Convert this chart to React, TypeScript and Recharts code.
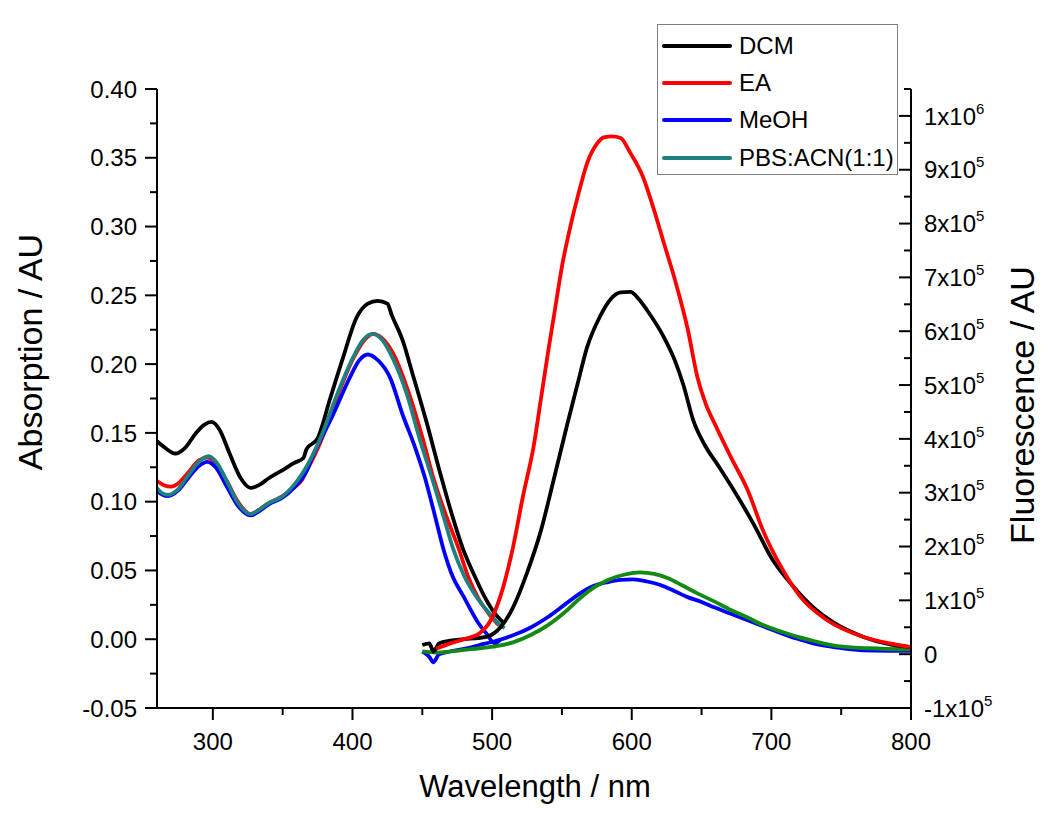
import React from 'react'
import { LineChart, Line, XAxis, YAxis, Label } from 'recharts'

// [wavelength nm, absorbance AU]
const dcmAbs = [
  [260, 0.144], [266, 0.139], [273, 0.135], [280, 0.139], [288, 0.150], [294, 0.156], [299, 0.158],
  [305, 0.152], [312, 0.135], [320, 0.117], [327, 0.110], [333, 0.112], [340, 0.117], [350, 0.123],
  [358, 0.128], [365, 0.132], [367, 0.138], [375, 0.146], [384, 0.175], [393, 0.204], [403, 0.234],
  [411, 0.244], [418, 0.246], [425, 0.244], [428, 0.236], [436, 0.217], [443, 0.193], [453, 0.158],
  [463, 0.120], [472, 0.088], [479, 0.066], [487, 0.047], [494, 0.032], [501, 0.020], [508, 0.012],
]
const eaAbs = [
  [260, 0.115], [265, 0.112], [270, 0.111], [276, 0.114], [283, 0.122], [290, 0.130], [296, 0.132],
  [302, 0.128], [310, 0.115], [318, 0.100], [327, 0.091], [333, 0.094], [340, 0.099], [350, 0.104],
  [358, 0.110], [364, 0.116], [366, 0.120], [377, 0.143], [389, 0.176], [400, 0.203], [409, 0.218],
  [415, 0.222], [421, 0.219], [430, 0.206], [440, 0.180], [450, 0.147], [458, 0.117], [467, 0.090],
  [476, 0.066], [483, 0.045], [490, 0.030], [498, 0.018], [505, 0.010],
]
const meohAbs = [
  [260, 0.108], [264, 0.105], [268, 0.104], [275, 0.108], [283, 0.118], [290, 0.126], [296, 0.129],
  [302, 0.125], [310, 0.111], [318, 0.097], [327, 0.090], [333, 0.093], [340, 0.098], [350, 0.103],
  [358, 0.110], [366, 0.120], [372, 0.134], [386, 0.163], [398, 0.190], [405, 0.203], [411, 0.207],
  [418, 0.203], [427, 0.190], [436, 0.163], [445, 0.139], [452, 0.117], [459, 0.090], [465, 0.066],
  [472, 0.045], [479, 0.032], [490, 0.012], [496, 0.004], [502, -0.003], [506, 0.000],
]
const pbsAbs = [
  [260, 0.110], [264, 0.106], [268, 0.105], [275, 0.109], [283, 0.120], [290, 0.129], [297, 0.133],
  [303, 0.128], [310, 0.115], [318, 0.099], [327, 0.091], [333, 0.094], [340, 0.099], [350, 0.104],
  [358, 0.112], [365, 0.122], [377, 0.146], [389, 0.178], [400, 0.204], [408, 0.218], [414, 0.222],
  [421, 0.218], [429, 0.204], [439, 0.178], [448, 0.146], [457, 0.117], [465, 0.090], [472, 0.066],
  [480, 0.046], [488, 0.032], [497, 0.020], [506, 0.010], [509, 0.008],
]

// [wavelength nm, fluorescence AU]
const dcmFl = [
  [450, 0.17e5], [455, 0.2e5], [458, 0.05e5], [462, 0.2e5], [470, 0.25e5], [480, 0.28e5], [490, 0.3e5],
  [497, 0.33e5], [506, 0.5e5], [515, 0.87e5], [525, 1.51e5], [535, 2.3e5], [544, 3.23e5], [554, 4.29e5],
  [561, 5.0e5], [568, 5.7e5], [577, 6.26e5], [585, 6.6e5], [592, 6.72e5], [599, 6.73e5], [605, 6.6e5],
  [611, 6.39e5], [623, 5.89e5], [631, 5.45e5], [637, 5.0e5], [644, 4.35e5], [652, 3.9e5], [662, 3.5e5],
  [673, 3.05e5], [687, 2.43e5], [701, 1.75e5], [716, 1.25e5], [730, 0.87e5], [745, 0.58e5], [766, 0.32e5],
  [785, 0.18e5], [800, 0.13e5],
]
const eaFl = [
  [460, 0.1e5], [470, 0.2e5], [480, 0.28e5], [491, 0.39e5], [499, 0.63e5], [508, 1.25e5], [515, 1.99e5],
  [522, 2.92e5], [530, 3.9e5], [535, 4.75e5], [540, 5.6e5], [545, 6.4e5], [550, 7.2e5], [556, 7.94e5],
  [562, 8.57e5], [568, 9.12e5], [575, 9.48e5], [580, 9.6e5], [586, 9.62e5], [592, 9.59e5], [599, 9.31e5],
  [608, 8.87e5], [616, 8.25e5], [623, 7.64e5], [631, 6.95e5], [640, 6.05e5], [647, 5.15e5], [653, 4.65e5],
  [660, 4.25e5], [671, 3.66e5], [683, 3.05e5], [694, 2.3e5], [707, 1.62e5], [721, 1.06e5], [740, 0.63e5],
  [766, 0.32e5], [785, 0.2e5], [800, 0.13e5],
]
const meohFl = [
  [450, 0.05e5], [455, -0.05e5], [458, -0.15e5], [462, 0.0], [470, 0.05e5], [480, 0.1e5], [491, 0.17e5],
  [503, 0.25e5], [515, 0.35e5], [528, 0.5e5], [540, 0.69e5], [552, 0.92e5], [563, 1.13e5], [573, 1.27e5],
  [583, 1.34e5], [592, 1.38e5], [601, 1.39e5], [611, 1.35e5], [621, 1.28e5], [630, 1.18e5], [640, 1.06e5],
  [650, 0.97e5], [659, 0.87e5], [671, 0.75e5], [683, 0.63e5], [695, 0.51e5], [707, 0.39e5], [718, 0.29e5],
  [730, 0.2e5], [748, 0.12e5], [766, 0.07e5], [800, 0.06e5],
]
const pbsFl = [
  [450, 0.05e5], [460, 0.03e5], [470, 0.05e5], [480, 0.08e5], [491, 0.11e5], [503, 0.15e5], [515, 0.22e5],
  [528, 0.36e5], [540, 0.54e5], [552, 0.78e5], [563, 1.04e5], [573, 1.24e5], [583, 1.38e5], [595, 1.48e5],
  [606, 1.52e5], [616, 1.49e5], [626, 1.41e5], [636, 1.28e5], [647, 1.13e5], [659, 0.98e5], [671, 0.82e5],
  [683, 0.68e5], [694, 0.54e5], [707, 0.42e5], [719, 0.32e5], [731, 0.24e5], [743, 0.17e5], [770, 0.11e5],
  [800, 0.09e5],
]

const xTicks = [300, 350, 400, 450, 500, 550, 600, 650, 700, 750, 800]
const absTicks = [-0.05, -0.025, 0, 0.025, 0.05, 0.075, 0.1, 0.125, 0.15, 0.175, 0.2, 0.225, 0.25, 0.275, 0.3, 0.325, 0.35, 0.375, 0.4]
const flTicks = [-1e5, -0.5e5, 0, 0.5e5, 1e5, 1.5e5, 2e5, 2.5e5, 3e5, 3.5e5, 4e5, 4.5e5, 5e5, 5.5e5, 6e5, 6.5e5, 7e5, 7.5e5, 8e5, 8.5e5, 9e5, 9.5e5, 1e6, 1.05e6]

const legendItems = [
  { name: 'DCM', color: '#000000' },
  { name: 'EA', color: '#ff0000' },
  { name: 'MeOH', color: '#0000ff' },
  { name: 'PBS:ACN(1:1)', color: '#1f8080' },
]

const FONT = 'Arial, "Liberation Sans", sans-serif'
const toPoints = (rows: number[][]) => rows.map(([x, y]) => ({ x, y }))

function LeftTick({ x, y, payload }: any) {
  const v = payload.value
  const major = Math.abs(Math.round(v * 1000)) % 50 === 0
  return (
    <g>
      <line x1={x} x2={x - (major ? 12 : 7)} y1={y} y2={y} stroke="#000" strokeWidth={2} />
      {major && (
        <text x={x - 20} y={y} dy="0.36em" textAnchor="end" fontSize={24} fontFamily={FONT} fill="#000">
          {v.toFixed(2)}
        </text>
      )}
    </g>
  )
}

function RightTick({ x, y, payload }: any) {
  const v = payload.value
  const major = Math.abs(Math.round(v / 1e4)) % 10 === 0
  let label: React.ReactNode = null
  if (major) {
    if (v === 0) {
      label = '0'
    } else {
      const exp = Math.floor(Math.log10(Math.abs(v)))
      const m = Math.round(v / Math.pow(10, exp))
      label = (
        <>
          <tspan>{`${m}x10`}</tspan>
          <tspan dy={-11} fontSize={15}>{exp}</tspan>
        </>
      )
    }
  }
  return (
    <g>
      <line x1={x} x2={x - (major ? 12 : 7)} y1={y} y2={y} stroke="#000" strokeWidth={2} />
      {major && (
        <text x={x + 13} y={y} dy="0.36em" textAnchor="start" fontSize={24} fontFamily={FONT} fill="#000">
          {label}
        </text>
      )}
    </g>
  )
}

function BottomTick({ x, y, payload }: any) {
  const v = payload.value
  const major = v % 100 === 0
  return (
    <g>
      <line x1={x} x2={x} y1={y} y2={y + (major ? 12 : 7)} stroke="#000" strokeWidth={2} />
      {major && (
        <text x={x} y={y + 33} dy="0.36em" textAnchor="middle" fontSize={24} fontFamily={FONT} fill="#000">
          {v}
        </text>
      )}
    </g>
  )
}

function Legend() {
  return (
    <div
      style={{
        position: 'absolute', left: 657, top: 24, width: 241, height: 151, boxSizing: 'border-box',
        border: '1px solid #808080', background: '#fff', paddingTop: 2,
      }}
    >
      {legendItems.map((it) => (
        <div key={it.name} style={{ display: 'flex', alignItems: 'center', height: 37.3 }}>
          <span style={{ display: 'inline-block', width: 70, height: 4, marginLeft: 4, background: it.color, borderRadius: 2 }} />
          <span style={{ marginLeft: 7, fontSize: 24, fontFamily: FONT, color: '#000', lineHeight: 1 }}>{it.name}</span>
        </div>
      ))}
    </div>
  )
}

export default function App() {
  const lineProps = { type: 'monotone' as const, dataKey: 'y', dot: false, strokeWidth: 3.8, isAnimationActive: false }
  return (
    <div style={{ position: 'absolute', left: 0, top: 0, width: 1050, height: 818, background: '#fff' }}>
      <LineChart width={1050} height={818} margin={{ top: 89, right: 39, bottom: 50, left: 57 }}>
        <XAxis
          dataKey="x" type="number" domain={[260, 800]} allowDataOverflow ticks={xTicks} interval={0}
          height={60} tickSize={0} tickMargin={0} tickLine={false}
          axisLine={{ stroke: '#000', strokeWidth: 2 }} tick={<BottomTick />}
        >
          <Label
            content={() => (
              <text x={535} y={786} dy="0.36em" textAnchor="middle" fontSize={31} fontFamily={FONT} fill="#000">
                Wavelength / nm
              </text>
            )}
          />
        </XAxis>
        <YAxis
          yAxisId="abs" orientation="left" type="number" domain={[-0.05, 0.4]} allowDataOverflow ticks={absTicks}
          interval={0} width={100} tickSize={0} tickMargin={0} tickLine={false}
          axisLine={{ stroke: '#000', strokeWidth: 2 }} tick={<LeftTick />}
        >
          <Label
            content={() => (
              <text x={30} y={352} dy="0.36em" textAnchor="middle" fontSize={34} fontFamily={FONT} fill="#000"
                transform="rotate(-90 30 352)">
                Absorption / AU
              </text>
            )}
          />
        </YAxis>
        <YAxis
          yAxisId="fl" orientation="right" type="number" domain={[-1e5, 1.05e6]} allowDataOverflow ticks={flTicks}
          interval={0} width={100} tickSize={0} tickMargin={0} tickLine={false}
          axisLine={{ stroke: '#000', strokeWidth: 2 }} tick={<RightTick />}
        >
          <Label
            content={() => (
              <text x={1022} y={405} dy="0.36em" textAnchor="middle" fontSize={34} fontFamily={FONT} fill="#000"
                transform="rotate(-90 1022 405)">
                Fluorescence / AU
              </text>
            )}
          />
        </YAxis>

        <Line {...lineProps} yAxisId="abs" data={toPoints(eaAbs)} stroke="#ff0000" />
        <Line {...lineProps} yAxisId="abs" data={toPoints(meohAbs)} stroke="#0000ff" />
        <Line {...lineProps} yAxisId="abs" data={toPoints(dcmAbs)} stroke="#000000" />
        <Line {...lineProps} yAxisId="abs" data={toPoints(pbsAbs)} stroke="#1f8080" />

        <Line {...lineProps} yAxisId="fl" data={toPoints(meohFl)} stroke="#0000ff" />
        <Line {...lineProps} yAxisId="fl" data={toPoints(pbsFl)} stroke="#138a13" />
        <Line {...lineProps} yAxisId="fl" data={toPoints(dcmFl)} stroke="#000000" />
        <Line {...lineProps} yAxisId="fl" data={toPoints(eaFl)} stroke="#ff0000" />
      </LineChart>
      <Legend />
    </div>
  )
}
